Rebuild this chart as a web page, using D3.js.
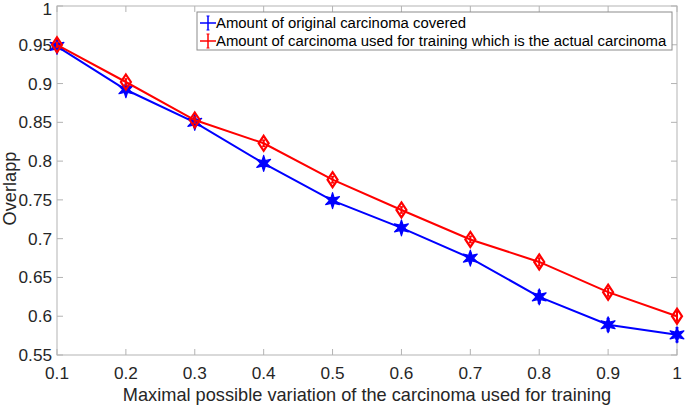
<!DOCTYPE html>
<html><head><meta charset="utf-8">
<script src="https://cdn.jsdelivr.net/npm/d3@7"></script>
<style>body{margin:0;background:#fff}svg{display:block}text{font-family:"Liberation Sans",Arial,sans-serif;fill:#262626}</style>
</head><body><svg id="c" width="685" height="405"></svg>
<script>
const xValues = [0.1,0.2,0.3,0.4,0.5,0.6,0.7,0.8,0.9,1.0];
const blueValues = [0.948,0.892,0.850,0.797,0.749,0.714,0.675,0.625,0.589,0.576];
const blueErr = [0.003,0.003,0.003,0.004,0.004,0.005,0.006,0.008,0.008,0.009];
const redValues = [0.950,0.902,0.853,0.823,0.776,0.737,0.699,0.670,0.631,0.600];
const redErr = [0.003,0.004,0.004,0.004,0.004,0.004,0.004,0.005,0.005,0.006];
const xTicks = [0.1,0.2,0.3,0.4,0.5,0.6,0.7,0.8,0.9,1];
const yTicks = [0.55,0.6,0.65,0.7,0.75,0.8,0.85,0.9,0.95,1];
const legendLabels = ["Amount of original carcinoma covered","Amount of carcinoma used for training which is the actual carcinoma"];

const svg = d3.select("#c");
const L=57,R=677,T=6,B=355;
const x = d3.scaleLinear().domain([0.1,1]).range([L,R]);
const y = d3.scaleLinear().domain([0.55,1]).range([B,T]);
const axisCol="#b3b3b3";

svg.append("rect").attr("x",L).attr("y",T).attr("width",R-L).attr("height",B-T).attr("fill","none").attr("stroke",axisCol).attr("stroke-width",1);
const tl=6;
const g=svg.append("g").attr("stroke",axisCol).attr("stroke-width",1);
xTicks.forEach(t=>{
  g.append("line").attr("x1",x(t)).attr("x2",x(t)).attr("y1",B).attr("y2",B-tl);
  g.append("line").attr("x1",x(t)).attr("x2",x(t)).attr("y1",T).attr("y2",T+tl);
});
yTicks.forEach(t=>{
  g.append("line").attr("x1",L).attr("x2",L+tl).attr("y1",y(t)).attr("y2",y(t));
  g.append("line").attr("x1",R).attr("x2",R-tl).attr("y1",y(t)).attr("y2",y(t));
});
svg.selectAll(".xt").data(xTicks).join("text").attr("x",d=>x(d)).attr("y",379).attr("text-anchor","middle").attr("font-size",17.2).text(d=>d3.format("")(d));
svg.selectAll(".yt").data(yTicks).join("text").attr("x",52).attr("y",d=>Math.max(y(d)+6,15)).attr("text-anchor","end").attr("font-size",17.2).text(d=>d3.format("")(d));
svg.append("text").attr("x",(L+R)/2).attr("y",400.5).attr("text-anchor","middle").attr("font-size",18.2).text("Maximal possible variation of the carcinoma used for training");
svg.append("text").attr("transform",`translate(16,${(T+B)/2+8}) rotate(-90)`).attr("text-anchor","middle").attr("font-size",18.2).text("Overlapp");

function hexagram(ro,ri){
  const pts=[];
  for(let k=0;k<12;k++){const a=-Math.PI/2+k*Math.PI/6;const r=k%2?ri:ro;pts.push([r*Math.cos(a),r*Math.sin(a)]);}
  return "M"+pts.map(p=>p.join(",")).join("L")+"Z";
}
function series(vals,errs,col,marker){
  const gg=svg.append("g");
  const line=d3.line().x((d,i)=>x(xValues[i])).y(d=>y(d));
  gg.append("path").datum(vals).attr("d",line).attr("fill","none").attr("stroke",col).attr("stroke-width",2);
  vals.forEach((v,i)=>{
    const cx=x(xValues[i]);
    gg.append("line").attr("x1",cx).attr("x2",cx).attr("y1",y(v-errs[i])).attr("y2",y(v+errs[i])).attr("stroke",col).attr("stroke-width",2);
    [v-errs[i],v+errs[i]].forEach(e=>gg.append("line").attr("x1",cx-1.5).attr("x2",cx+1.5).attr("y1",y(e)).attr("y2",y(e)).attr("stroke",col).attr("stroke-width",1.5));
    if(marker==="star"){
      gg.append("path").attr("d",hexagram(8,3.2)).attr("transform",`translate(${cx},${y(v)})`).attr("stroke",col).attr("stroke-width",1.2).attr("stroke-linejoin","round").attr("fill",col);
    } else {
      gg.append("path").attr("d","M0,-7.5L5,0L0,7.5L-5,0Z").attr("transform",`translate(${cx},${y(v)})`).attr("stroke",col).attr("stroke-width",2.2).attr("fill","none");
    }
  });
}
series(blueValues,blueErr,"#0000ff","star");
series(redValues,redErr,"#ff0000","diamond");

const lg=svg.append("g");
lg.append("rect").attr("x",197).attr("y",12).attr("width",475).attr("height",38).attr("fill","#fff").attr("stroke","#8c8c8c").attr("stroke-width",1);
const cols=["#0000ff","#ff0000"];
legendLabels.forEach((t,i)=>{
  const yy=23+i*18;
  lg.append("line").attr("x1",200).attr("x2",216).attr("y1",yy).attr("y2",yy).attr("stroke",cols[i]).attr("stroke-width",1.5);
  lg.append("line").attr("x1",208).attr("x2",208).attr("y1",yy-7).attr("y2",yy+7).attr("stroke",cols[i]).attr("stroke-width",1.5);
  lg.append("line").attr("x1",206.5).attr("x2",209.5).attr("y1",yy-7).attr("y2",yy-7).attr("stroke",cols[i]).attr("stroke-width",1);
  lg.append("line").attr("x1",206.5).attr("x2",209.5).attr("y1",yy+7).attr("y2",yy+7).attr("stroke",cols[i]).attr("stroke-width",1);
  lg.append("text").attr("x",216).attr("y",yy+5).attr("font-size",14.9).style("fill","#000").text(t);
});
</script></body></html>
